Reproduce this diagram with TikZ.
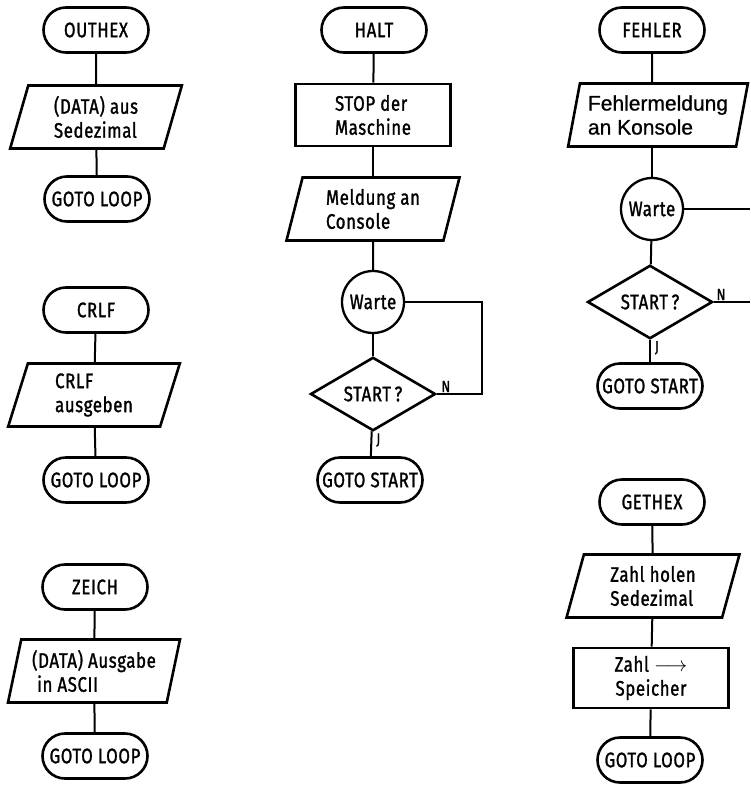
\documentclass[tikz,border=0pt]{standalone}
\usepackage{fontspec}
\setmainfont[FakeStretch=0.82]{Fira Sans}
\newfontfamily\dinfont[FakeStretch=0.8, FakeBold=1.3, LetterSpace=3]{Fira Sans}
\newfontfamily\helvfont[FakeBold=0.8]{Liberation Sans}
\usetikzlibrary{shapes.geometric,shapes.misc,positioning}

\begin{document}
\begin{tikzpicture}[x=1pt, y=-1pt,
  term/.style={draw, rounded rectangle, line width=2.6pt, minimum width=105pt,
               minimum height=45pt, inner sep=0pt, font=\dinfont\fontsize{21}{24}\selectfont},
  io/.style={draw, trapezium, trapezium left angle=75, trapezium right angle=105,
             trapezium stretches=true, line width=2.6pt, minimum width=#1,
             minimum height=63pt, inner sep=0pt, align=left,
             font=\dinfont\fontsize{21}{24}\selectfont},
  io/.default=172pt,
  proc/.style={draw, rectangle, line width=2.6pt, minimum width=155pt,
               minimum height=62pt, inner sep=0pt, align=left,
               font=\dinfont\fontsize{21}{24}\selectfont},
  wait/.style={draw, circle, line width=2.3pt, minimum size=62pt, inner sep=0pt,
               font=\dinfont\fontsize{21}{24}\selectfont},
  decide/.style={draw, diamond, line width=2.6pt, minimum width=125pt,
                 minimum height=61pt, inner sep=0pt, font=\dinfont\fontsize{21}{24}\selectfont},
  conn/.style={line width=2pt},
  lbl/.style={font=\dinfont\fontsize{16}{18}\selectfont, inner sep=1pt},
]
\useasboundingbox (0,0) rectangle (750,789);
% Nodes: OUTHEX, CRLF, ZEICH
\node[term] (outhex)   at (96,30)  {OUTHEX};
\node[io]   (outdata)  at (96,117) {(DATA) aus\\Sedezimal};
\node[term] (outgoto)  at (97,199) {GOTO LOOP};
\node[term] (crlf)     at (96,310) {CRLF};
\node[io]   (crlfout)  at (94,395) {CRLF\\ausgeben};
\node[term] (crlfgoto) at (96,480) {GOTO LOOP};
\node[term] (zeich)    at (95,587) {ZEICH};
\node[io]   (zeichout) at (94,671) {(DATA) Ausgabe\\\ in ASCII};
\node[term] (zeichgoto) at (95,756) {GOTO LOOP};
% Nodes: HALT
\node[term]   (halt)     at (374,30)  {HALT};
\node[proc]   (stop)     at (373,115) {STOP der\\Maschine};
\node[io=173pt] (meld)   at (373,209) {Meldung an\\Console};
\node[wait]   (warteA)   at (373,302) {Warte};
\node[decide] (startA)   at (373,394) {START\,?};
\node[term]   (gostartA) at (370,480) {GOTO START};
\coordinate   (loopA)    at (482,394);
% Nodes: FEHLER
\node[term]   (fehler)   at (652,30)  {FEHLER};
\node[io=180pt, font=\helvfont\fontsize{21}{24}\selectfont]
              (fmeld)    at (658,115) {Fehlermeldung\\an Konsole};
\node[wait]   (warteB)   at (652,209) {Warte};
\node[decide] (startB)   at (650,302) {START\,?};
\node[term]   (gostartB) at (650,386) {GOTO START};
\coordinate   (edgeW)    at (750,209);
\coordinate   (edgeS)    at (750,302);
% Nodes: GETHEX
\node[term] (gethex)   at (652,502) {GETHEX};
\node[io=173pt] (zahl) at (653,586) {Zahl holen\\Sedezimal};
\node[proc, minimum height=60pt, align=center]
            (speicher) at (651,678) {Zahl $\longrightarrow$\\Speicher};
\node[term] (getgoto)  at (650,760) {GOTO LOOP};
% Connectors
\draw[conn] (outhex) -- (outdata);
\draw[conn] (outdata) -- (outgoto);
\draw[conn] (crlf) -- (crlfout);
\draw[conn] (crlfout) -- (crlfgoto);
\draw[conn] (zeich) -- (zeichout);
\draw[conn] (zeichout) -- (zeichgoto);
\draw[conn] (halt) -- (stop);
\draw[conn] (stop) -- (meld);
\draw[conn] (meld) -- (warteA);
\draw[conn] (warteA) -- (startA);
\draw[conn] (startA) -- node[lbl, right=3pt, pos=0.35]{J} (gostartA);
\draw[conn] (warteA.east) -| (loopA) -- node[lbl, above, pos=0.8]{N} (startA.east);
\draw[conn] (fehler) -- (fmeld.north -| fehler);
\draw[conn] (fmeld.south -| warteB) -- (warteB);
\draw[conn] (warteB) -- (startB);
\draw[conn] (startB) -- node[lbl, right=3pt, pos=0.35]{J} (gostartB);
\draw[conn] (warteB.east) -- (edgeW);
\draw[conn] (startB.east) -- node[lbl, above, pos=0.2]{N} (edgeS);
\draw[conn] (gethex) -- (zahl);
\draw[conn] (zahl) -- (speicher);
\draw[conn] (speicher) -- (getgoto);
\end{tikzpicture}
\end{document}
